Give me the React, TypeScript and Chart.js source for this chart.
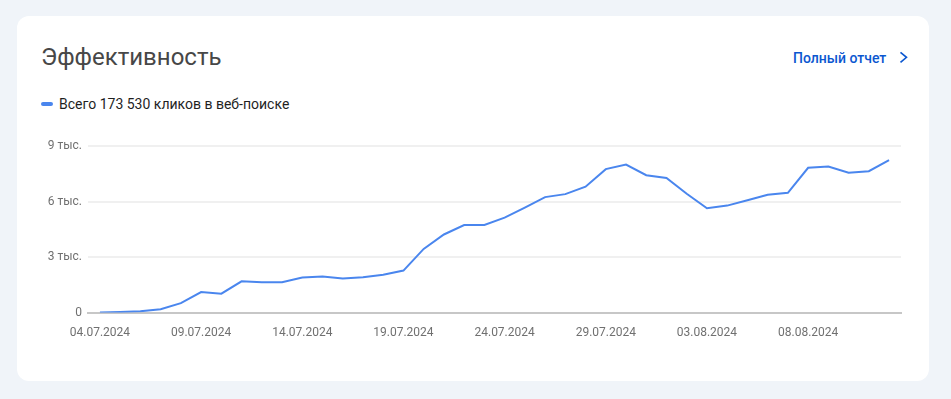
import React, { useEffect, useRef } from "react";
import { Chart, registerables } from "chart.js";

Chart.register(...registerables);

const dates: string[] = [
  "04.07.2024", "05.07.2024", "06.07.2024", "07.07.2024", "08.07.2024",
  "09.07.2024", "10.07.2024", "11.07.2024", "12.07.2024", "13.07.2024",
  "14.07.2024", "15.07.2024", "16.07.2024", "17.07.2024", "18.07.2024",
  "19.07.2024", "20.07.2024", "21.07.2024", "22.07.2024", "23.07.2024",
  "24.07.2024", "25.07.2024", "26.07.2024", "27.07.2024", "28.07.2024",
  "29.07.2024", "30.07.2024", "31.07.2024", "01.08.2024", "02.08.2024",
  "03.08.2024", "04.08.2024", "05.08.2024", "06.08.2024", "07.08.2024",
  "08.08.2024", "09.08.2024", "10.08.2024", "11.08.2024", "12.08.2024",
];

const clicks: number[] = [
  0, 30, 70, 180, 510, 1110, 1020, 1690, 1640, 1640,
  1890, 1950, 1840, 1910, 2040, 2270, 3440, 4220, 4730, 4730,
  5130, 5670, 6240, 6400, 6800, 7750, 8000, 7420, 7270, 6420,
  5640, 5780, 6070, 6370, 6470, 7820, 7890, 7560, 7640, 8240,
];

const yTickValues: number[] = [0, 3000, 6000, 9000];
const yTickLabels: string[] = ["0", "3 тыс.", "6 тыс.", "9 тыс."];
const xTickIndices: number[] = [0, 5, 10, 15, 20, 25, 30, 35];

const title = "Эффективность";
const linkText = "Полный отчет";
const legendText = "Всего 173 530 кликов в веб-поиске";

const LINE_COLOR = "#4a86ee";
const LINK_COLOR = "#0b57d0";
const FONT = "Roboto, 'Noto Sans', sans-serif";

function ClicksChart() {
  const ref = useRef<HTMLCanvasElement | null>(null);

  useEffect(() => {
    if (!ref.current) return;
    const chart = new Chart(ref.current, {
      type: "line",
      data: {
        datasets: [
          {
            label: legendText,
            data: clicks.map((v, i) => ({ x: i, y: v })),
            borderColor: LINE_COLOR,
            backgroundColor: LINE_COLOR,
            borderWidth: 2,
            pointRadius: 0,
            pointHoverRadius: 0,
            tension: 0,
            fill: false,
          },
        ],
      },
      options: {
        responsive: false,
        animation: false,
        layout: { padding: { left: 0, right: 9, top: 16, bottom: 0 } },
        plugins: {
          legend: { display: false },
          tooltip: { enabled: false },
        },
        scales: {
          x: {
            type: "linear",
            min: -0.59,
            max: 39.59,
            afterBuildTicks: (scale: any) => {
              scale.ticks = xTickIndices.map((v) => ({ value: v }));
            },
            ticks: {
              autoSkip: false,
              maxRotation: 0,
              padding: 13,
              color: "#707070",
              font: { family: FONT, size: 12 },
              callback: (value: any) => dates[Number(value)] ?? "",
            },
            grid: { display: false, drawTicks: false },
            border: { display: true, color: "#c7c7c7", width: 2 },
          },
          y: {
            min: 0,
            max: 9000,
            afterBuildTicks: (scale: any) => {
              scale.ticks = yTickValues.map((v) => ({ value: v }));
            },
            afterFit: (scale: any) => {
              scale.width = 58;
            },
            ticks: {
              padding: 6,
              color: "#707070",
              font: { family: FONT, size: 12 },
              callback: (value: any) => {
                const idx = yTickValues.indexOf(Number(value));
                return idx >= 0 ? yTickLabels[idx] : "";
              },
            },
            grid: { color: "#f0f0f0", lineWidth: 2, drawTicks: false },
            border: { display: false },
          },
        },
      },
    });
    return () => chart.destroy();
  }, []);

  return (
    <canvas
      ref={ref}
      width={880}
      height={223}
      style={{ position: "absolute", left: 30, top: 130, width: 880, height: 223, display: "block" }}
    />
  );
}

export default function App() {
  return (
    <div
      style={{
        position: "fixed",
        inset: 0,
        background: "#f0f4f9",
        fontFamily: FONT,
        overflow: "hidden",
      }}
    >
      <div
        style={{
          position: "absolute",
          left: 17,
          top: 16,
          width: 912,
          height: 365,
          background: "#ffffff",
          borderRadius: 12,
        }}
      />
      <div
        style={{
          position: "absolute",
          left: 41,
          top: 45,
          fontSize: 24,
          lineHeight: "24px",
          color: "#474747",
          whiteSpace: "nowrap",
        }}
      >
        {title}
      </div>
      <div
        style={{
          position: "absolute",
          left: 793,
          top: 50.5,
          fontSize: 14,
          lineHeight: "14px",
          fontWeight: 500,
          color: LINK_COLOR,
          whiteSpace: "nowrap",
        }}
      >
        {linkText}
      </div>
      <svg
        width={14}
        height={16}
        style={{ position: "absolute", left: 897, top: 49 }}
        viewBox="0 0 14 16"
      >
        <path d="M3.5 3.3 L9.5 8.3 L3.5 13.3" fill="none" stroke={LINK_COLOR} strokeWidth={1.6} />
      </svg>
      <div
        style={{
          position: "absolute",
          left: 41,
          top: 102,
          width: 12,
          height: 4,
          borderRadius: 2,
          background: LINE_COLOR,
        }}
      />
      <div
        style={{
          position: "absolute",
          left: 59,
          top: 97.2,
          fontSize: 14,
          lineHeight: "14px",
          color: "#1f1f1f",
          whiteSpace: "nowrap",
        }}
      >
        {legendText}
      </div>
      <ClicksChart />
    </div>
  );
}
